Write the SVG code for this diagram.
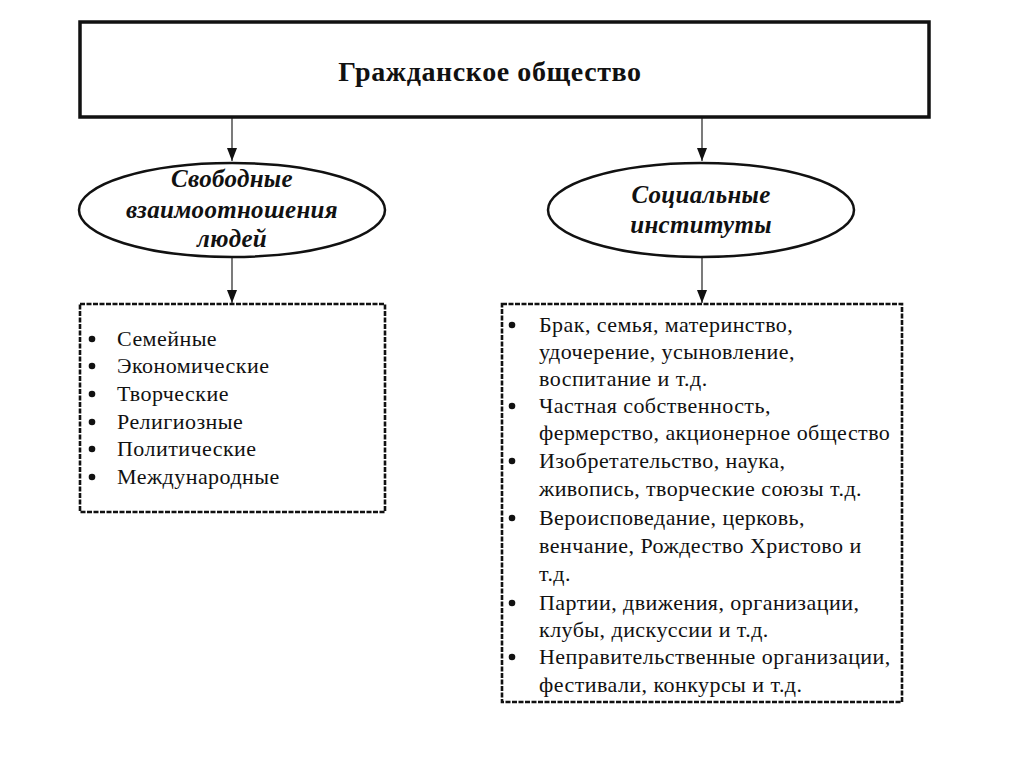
<svg xmlns="http://www.w3.org/2000/svg" width="1024" height="767" viewBox="0 0 1024 767">
<style>
.t{font-family:"Liberation Serif","Times New Roman",serif;fill:#111}
.title{font-size:28px;font-weight:bold;letter-spacing:0.6px}
.oval{font-size:25px;font-weight:bold;font-style:italic;letter-spacing:0.3px}
.li{font-size:22px;letter-spacing:0.45px}
.dash{fill:#fff;stroke:#111;stroke-width:2.6;stroke-dasharray:5 1.5}
.ell{fill:#fff;stroke:#111;stroke-width:2.5}
.con{stroke:#222;stroke-width:1.2;fill:none}
.b{fill:#111}
</style>
<defs>
<marker id="ah" markerWidth="14" markerHeight="12" refX="13" refY="5" orient="auto" markerUnits="userSpaceOnUse">
<path d="M0,0 L13,5 L0,10 Z" fill="#111"/>
</marker>
</defs>
<rect width="1024" height="767" fill="#fff"/>
<g id="connectors">
<line class="con" x1="232" y1="117" x2="232" y2="161" marker-end="url(#ah)"/>
<line class="con" x1="702" y1="117" x2="702" y2="161" marker-end="url(#ah)"/>
<line class="con" x1="232" y1="257" x2="232" y2="303" marker-end="url(#ah)"/>
<line class="con" x1="702" y1="257" x2="702" y2="303" marker-end="url(#ah)"/>
</g>
<g id="root">
<rect x="80" y="22" width="849" height="95" fill="#fff" stroke="#111" stroke-width="3.5"/>
<text class="t title" x="490" y="81" text-anchor="middle">Гражданское общество</text>
</g>
<g id="oval-left">
<ellipse class="ell" cx="232" cy="210" rx="153" ry="47"/>
<text class="t oval" text-anchor="middle"><tspan x="232" y="187">Свободные</tspan><tspan x="232" y="218">взаимоотношения</tspan><tspan x="232" y="247">людей</tspan></text>
</g>
<g id="oval-right">
<ellipse class="ell" cx="701" cy="210" rx="153" ry="47"/>
<text class="t oval" text-anchor="middle"><tspan x="701" y="203">Социальные</tspan><tspan x="701" y="233">институты</tspan></text>
</g>
<g id="list-left">
<rect class="dash" x="80" y="304" width="305" height="208"/>
<g class="b">
<circle cx="92" cy="339" r="3.3"/><circle cx="92" cy="366" r="3.3"/><circle cx="92" cy="394" r="3.3"/>
<circle cx="92" cy="422" r="3.3"/><circle cx="92" cy="449" r="3.3"/><circle cx="92" cy="477" r="3.3"/>
</g>
<g class="t li">
<text x="117" y="346">Семейные</text>
<text x="117" y="373">Экономические</text>
<text x="117" y="401">Творческие</text>
<text x="117" y="429">Религиозные</text>
<text x="117" y="456">Политические</text>
<text x="117" y="484">Международные</text>
</g>
</g>
<g id="list-right">
<rect class="dash" x="502" y="304" width="400" height="398"/>
<g class="b">
<circle cx="512" cy="325" r="3.3"/><circle cx="512" cy="406" r="3.3"/><circle cx="512" cy="461" r="3.3"/>
<circle cx="512" cy="518" r="3.3"/><circle cx="512" cy="603" r="3.3"/><circle cx="512" cy="657" r="3.3"/>
</g>
<g class="t li">
<text x="539" y="332">Брак, семья, материнство,</text>
<text x="539" y="359">удочерение, усыновление,</text>
<text x="539" y="386">воспитание и т.д.</text>
<text x="539" y="413">Частная собственность,</text>
<text x="539" y="440">фермерство, акционерное общество</text>
<text x="539" y="468">Изобретательство, наука,</text>
<text x="539" y="496">живопись, творческие союзы т.д.</text>
<text x="539" y="525">Вероисповедание, церковь,</text>
<text x="539" y="553">венчание, Рождество Христово и</text>
<text x="539" y="581">т.д.</text>
<text x="539" y="610">Партии, движения, организации,</text>
<text x="539" y="637">клубы, дискуссии и т.д.</text>
<text x="539" y="664">Неправительственные организации,</text>
<text x="539" y="692">фестивали, конкурсы и т.д.</text>
</g>
</g>
</svg>
